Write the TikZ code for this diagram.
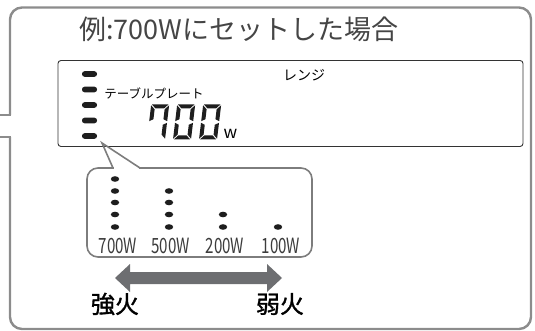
\documentclass[tikz,border=0pt]{standalone}
\usepackage{fontspec}
\newfontfamily\jp{Noto Sans CJK JP}
\newfontfamily\jpm{Noto Sans CJK JP}[FakeBold=1.4]
\newfontfamily\jpc{Noto Sans CJK JP}[FakeStretch=0.72]
\definecolor{outerc}{HTML}{8C8C8C}
\definecolor{bubc}{HTML}{7D7D7D}
\definecolor{txtc}{HTML}{3C3C3C}
\definecolor{titc}{HTML}{454545}
\definecolor{arrc}{HTML}{6D6E71}
\definecolor{lcdc}{HTML}{333333}
\definecolor{segc}{HTML}{1E1E1E}
% seven segment pieces (local coords, y up, w=18, h=35, t=4, gap=0.8)
\newcommand\sgA{\fill (0.8,35) -- (17.2,35) -- (13.2,31) -- (4.8,31) -- cycle;}
\newcommand\sgD{\fill (0.8,0) -- (17.2,0) -- (13.2,4) -- (4.8,4) -- cycle;}
\newcommand\sgF{\fill (0,34.2) -- (4,30.2) -- (4,20.3) -- (0,18.3) -- cycle;}
\newcommand\sgE{\fill (0,0.8) -- (4,4.8) -- (4,14.7) -- (0,16.7) -- cycle;}
\newcommand\sgB{\fill (18,34.2) -- (14,30.2) -- (14,20.3) -- (18,18.3) -- cycle;}
\newcommand\sgC{\fill (18,0.8) -- (14,4.8) -- (14,14.7) -- (18,16.7) -- cycle;}
\tikzset{
  outerbox/.style={draw=outerc, line width=2.4pt, rounded corners=12pt},
  lcdbox/.style={draw=lcdc, line width=0.9pt, rounded corners=3pt},
  bubble/.style={draw=bubc, line width=1.6pt},
  titletxt/.style={font=\jp\fontsize{27}{27}\selectfont, text=titc, inner sep=0pt},
  smalltxt/.style={font=\jp\fontsize{12.5}{12.5}\selectfont, text=black, inner sep=0pt},
  wlabel/.style={font=\jpc\fontsize{21}{21}\selectfont, text=txtc, inner sep=0pt},
  heat/.style={font=\jpm\fontsize{24}{24}\selectfont, text=black, inner sep=0pt},
  bar/.style={fill=segc, rounded corners=2.6pt},
  dot/.style={fill=segc},
  digit/.style={x=1pt, y=1pt, xslant=0.12, segc},
}
\begin{document}
\begin{tikzpicture}[x=1pt,y=-1pt]
\useasboundingbox (0,0) rectangle (535,331);
\clip (0,0) rectangle (535,331);
% outer frame with opening on the left
\draw[outerbox] (10,7.5) rectangle (531,329);
\fill[white] (8,115) rectangle (12,137);
\draw[draw=outerc, line width=2.4pt] (-3,115) -- (11.2,115);
\draw[draw=outerc, line width=2.4pt] (-3,137) -- (11.2,137);
% title
\node[titletxt] (title) at (239,29) {例:700Wにセットした場合};
% LCD
\draw[lcdbox] (58,60.5) rectangle (523,146.5);
\foreach \i in {0,...,4}{
  \fill[bar] (82,{74+15.5*\i-2.8}) rectangle (97,{74+15.5*\i+2.8});
}
\node[smalltxt] (plate) at (154,93) {テーブルプレート};
\node[smalltxt, font=\jp\fontsize{14}{14}\selectfont] (range) at (304,75) {レンジ};
% digits 700
\begin{scope}[shift={(147,139.5)}, digit]
  \sgA \sgB \sgC \sgF
\end{scope}
\begin{scope}[shift={(173,139.5)}, digit]
  \sgA \sgB \sgC \sgD \sgE \sgF
\end{scope}
\begin{scope}[shift={(199,139.5)}, digit]
  \sgA \sgB \sgC \sgD \sgE \sgF
\end{scope}
\node[font=\jp\fontsize{17}{17}\selectfont, inner sep=0pt, anchor=base] (wunit) at (230.5,139) {w};
% callout bubble
\draw[bubble, fill=white, rounded corners=11pt] (87,168) rectangle (312,257);
\fill[white] (114,165) rectangle (139,171);
\coordinate (tip) at (102,143);
\coordinate (bl) at (113,168);
\coordinate (br) at (140,168);
\draw[bubble, line join=miter] (bl) -- (tip) -- (br);
% dots
\foreach \y in {179,191,202.5,214.5,227}{ \fill[dot] (115,\y) ellipse (4.2pt and 2.8pt); }
\foreach \y in {191,202.5,214.5,227}{ \fill[dot] (169,\y) ellipse (4.2pt and 2.8pt); }
\foreach \y in {214.5,227}{ \fill[dot] (223,\y) ellipse (4.2pt and 2.8pt); }
\foreach \y in {227}{ \fill[dot] (278,\y) ellipse (4.2pt and 2.8pt); }
\node[wlabel] (w700) at (118,245.5) {700W};
\node[wlabel] (w500) at (170.5,245.5) {500W};
\node[wlabel] (w200) at (225,245.5) {200W};
\node[wlabel] (w100) at (281,245.5) {100W};
% double arrow
\coordinate (al) at (115,278);
\coordinate (ar) at (282,278);
\fill[arrc] (al) -- (130,264) -- (130,272) -- (267,272) -- (267,264) -- (ar)
  -- (267,292) -- (267,284) -- (130,284) -- (130,292) -- cycle;
\node[heat] (strong) at (115,304) {強火};
\node[heat] (weak) at (280,304) {弱火};
\end{tikzpicture}
\end{document}
